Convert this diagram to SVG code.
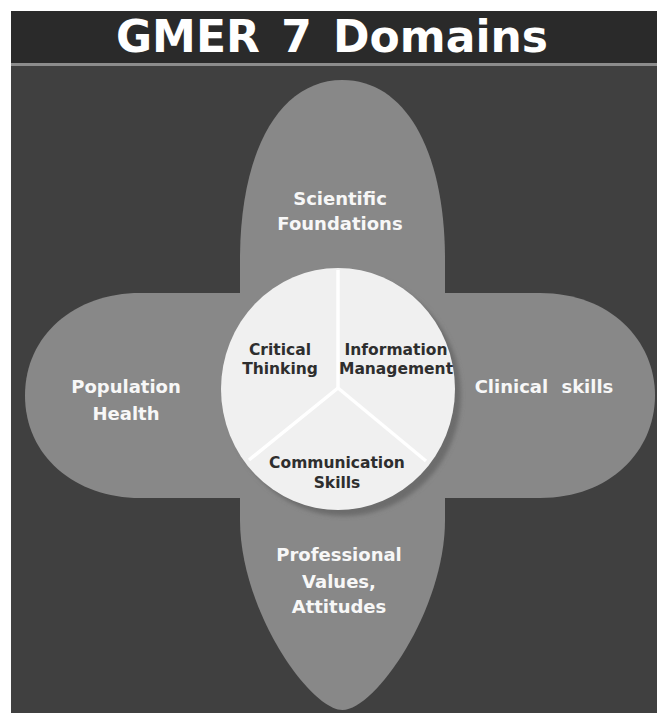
<svg xmlns="http://www.w3.org/2000/svg" width="657" height="713" viewBox="0 0 657 713">
  <style>
    .lobe { fill: #888888; }
    .lobe-label { font-family: "DejaVu Sans", "Liberation Sans", sans-serif; font-weight: bold; font-size: 18px; fill: #f7f7f7; text-anchor: middle; }
    .core-label { font-family: "DejaVu Sans", "Liberation Sans", sans-serif; font-weight: bold; font-size: 15.5px; fill: #2e2e2e; text-anchor: middle; }
    .divider { stroke: #ffffff; stroke-width: 3.5; stroke-linecap: butt; fill: none; }
  </style>
  <defs>
    <filter id="soft" x="-10%" y="-10%" width="120%" height="120%">
      <feGaussianBlur stdDeviation="2"/>
    </filter>
  </defs>

  <!-- page and slide background -->
  <rect x="0" y="0" width="657" height="713" fill="#ffffff"/>
  <rect x="11" y="11" width="646" height="702" fill="#404040"/>

  <!-- title bar -->
  <g id="title">
    <rect x="11" y="11" width="646" height="52" fill="#2a2a2a"/>
    <rect x="11" y="63" width="646" height="3" fill="#8c8c8c"/>
    <text x="332" y="52" font-family="DejaVu Sans, Liberation Sans, sans-serif" font-weight="bold" font-size="44" fill="#ffffff" text-anchor="middle" word-spacing="6">GMER 7 Domains</text>
  </g>

  <!-- outer domains: four lobes forming a cross -->
  <g id="scientific-foundations">
    <path class="lobe" d="M240,395.5 L240,260 C240,150 280,80 342.5,80 C405,80 445,150 445,260 L445,395.5 Z"/>
    <text class="lobe-label" x="340" y="205">Scientific</text>
    <text class="lobe-label" x="340" y="230">Foundations</text>
  </g>

  <g id="clinical-skills">
    <path class="lobe" d="M342.5,293 L540,293 C610,293 655,340 655,395.5 C655,451 610,498 540,498 L342.5,498 Z"/>
    <text class="lobe-label" x="544" y="393" word-spacing="7">Clinical skills</text>
  </g>

  <g id="professional-values">
    <path class="lobe" d="M445,395.5 L445,520 C445,610 375,710 342.5,710 C310,710 240,610 240,520 L240,395.5 Z"/>
    <text class="lobe-label" x="339" y="561">Professional</text>
    <text class="lobe-label" x="339" y="588">Values,</text>
    <text class="lobe-label" x="339" y="613">Attitudes</text>
  </g>

  <g id="population-health">
    <path class="lobe" d="M342.5,498 L140,498 C75,498 25,456 25,395.5 C25,335 75,293 140,293 L342.5,293 Z"/>
    <text class="lobe-label" x="126" y="393">Population</text>
    <text class="lobe-label" x="126" y="420">Health</text>
  </g>

  <!-- inner core: three shared domains -->
  <g id="core">
    <ellipse cx="344" cy="395" rx="117" ry="121" fill="#6c6c6c" filter="url(#soft)"/>
    <ellipse cx="338" cy="389" rx="117" ry="121" fill="#f0f0f0"/>
    <g id="dividers">
      <line class="divider" x1="338" y1="388" x2="338" y2="270"/>
      <line class="divider" x1="338" y1="388" x2="249" y2="460"/>
      <line class="divider" x1="338" y1="388" x2="426" y2="461"/>
    </g>
  </g>

  <g id="critical-thinking">
    <text class="core-label" x="280" y="355">Critical</text>
    <text class="core-label" x="280" y="374">Thinking</text>
  </g>

  <g id="information-management">
    <text class="core-label" x="396" y="355">Information</text>
    <text class="core-label" x="396" y="374">Management</text>
  </g>

  <g id="communication-skills">
    <text class="core-label" x="337" y="468">Communication</text>
    <text class="core-label" x="337" y="488">Skills</text>
  </g>
</svg>
